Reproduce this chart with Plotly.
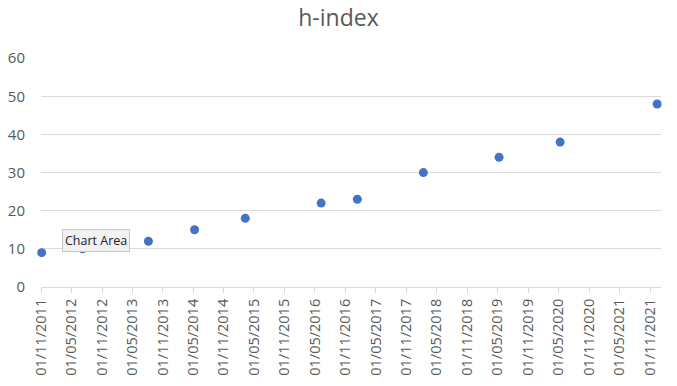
import plotly.graph_objects as go

dates = ["2011-11-05", "2012-07-07", "2013-08-06", "2014-05-10", "2015-03-10",
         "2016-06-07", "2017-01-10", "2018-02-10", "2019-05-10", "2020-05-10",
         "2021-12-13"]
h_index = [9, 10, 12, 15, 18, 22, 23, 30, 34, 38, 48]

grey = "#595959"
grid = "#d9d9d9"

fig = go.Figure()
fig.add_trace(go.Scatter(
    x=dates, y=h_index, mode="markers",
    marker=dict(color="#4472C4", size=9),
    name="h-index", showlegend=False, cliponaxis=False,
))

fig.update_layout(
    width=677, height=386,
    margin=dict(l=41, r=16, t=58, b=99, autoexpand=False),
    paper_bgcolor="white", plot_bgcolor="white",
    font=dict(family="Open Sans", color=grey, size=14),
    title=dict(text="h-index", x=0.5, xanchor="center", y=0.953, yanchor="middle",
               font=dict(size=23, color=grey)),
    xaxis=dict(
        type="date", range=["2011-11-01", "2022-01-05"], automargin=False,
        tick0="2011-11-01", dtick="M6", tickformat="%d/%m/%Y",
        tickangle=-90, showgrid=False, zeroline=False,
        showline=True, linecolor=grid, linewidth=1,
        ticks="outside", ticklen=5, tickcolor=grid,
        tickfont=dict(size=14.5, color=grey),
    ),
    yaxis=dict(
        range=[0, 60.05], dtick=10, tick0=0, automargin=False,
        showgrid=True, gridcolor=grid, gridwidth=1,
        zeroline=False, showline=False,
        ticks="outside", ticklen=12, tickcolor="rgba(0,0,0,0)",
        tickfont=dict(size=15, color=grey),
    ),
    annotations=[dict(
        text="Chart Area", xref="paper", yref="paper",
        x=0.0892, y=0.205, xanchor="center", yanchor="middle",
        showarrow=False, font=dict(size=12.5, color="#222222", family="Open Sans"),
        bgcolor="#f2f2f2", bordercolor="#c8c8c8", borderwidth=1, borderpad=2,
    )],
)

fig.write_html("out.html", config={"displayModeBar": False},
               post_script="document.body.style.margin='0';")
